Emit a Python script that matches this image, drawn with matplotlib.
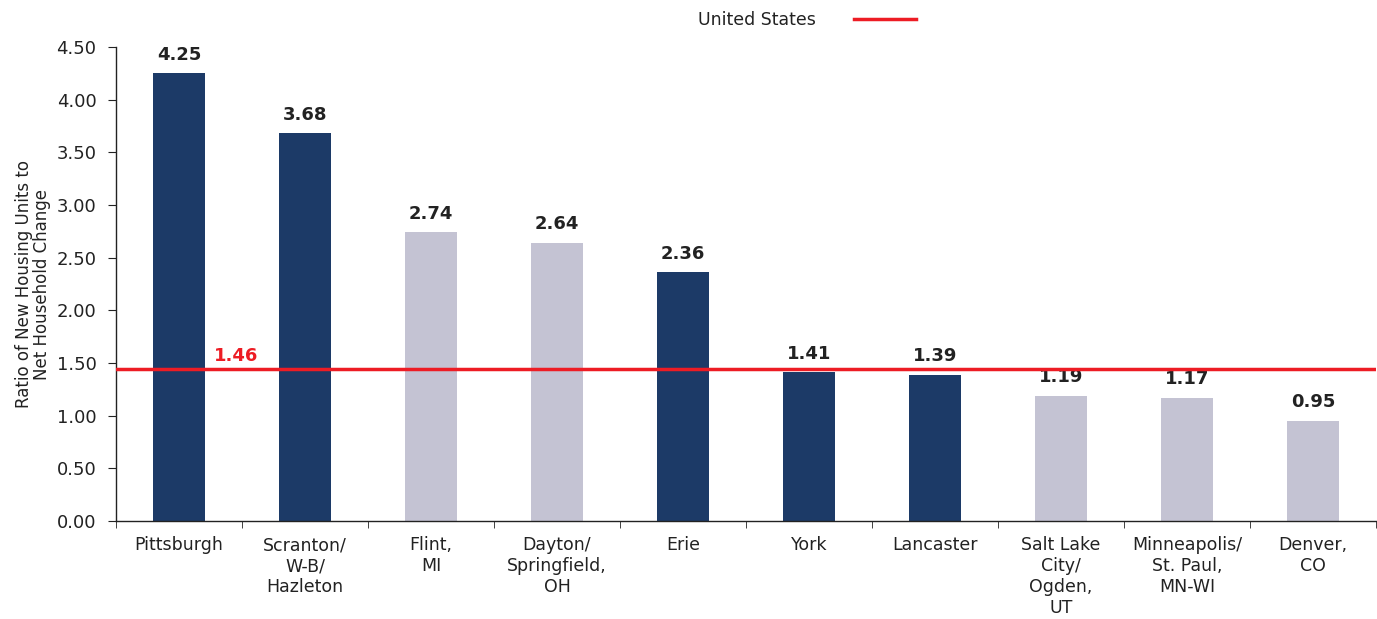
import numpy as np
import matplotlib.pyplot as plt
from matplotlib.lines import Line2D

categories = ["Pittsburgh", "Scranton/\nW-B/\nHazleton", "Flint,\nMI", "Dayton/\nSpringfield,\nOH",
              "Erie", "York", "Lancaster", "Salt Lake\nCity/\nOgden,\nUT", "Minneapolis/\nSt. Paul,\nMN-WI",
              "Denver,\nCO"]
values = [4.25, 3.68, 2.74, 2.64, 2.36, 1.41, 1.39, 1.19, 1.17, 0.95]
highlight = [True, True, False, False, True, True, True, False, False, False]
us_value = 1.46
yticks = [0.0, 0.5, 1.0, 1.5, 2.0, 2.5, 3.0, 3.5, 4.0, 4.5]

navy = "#1c3a67"
lilac = "#c4c3d3"
red = "#ed1c24"
text_col = "#222222"

plt.rcParams['font.family'] = ['DejaVu Sans']

fig = plt.figure(figsize=(13.77, 6.19), dpi=100)
ax = fig.add_axes([116/1377, 1 - 521/619, 1 - 117/1377, (521 - 47)/619])

x = np.arange(len(categories))
colors = [navy if h else lilac for h in highlight]
ax.bar(x, values, width=0.41, color=colors, zorder=2)

# value labels above each bar
for xi, v in zip(x, values):
    ax.text(xi, v + 0.09, "%.2f" % v, ha='center', va='bottom', fontsize=13,
            fontweight='bold', color=text_col)

# US reference line
ax.axhline(us_value - 0.02, color=red, lw=2.5, zorder=3)
ax.text(0.45, us_value + 0.02, "%.2f" % us_value, ha='center', va='bottom', fontsize=13,
        fontweight='bold', color=red, zorder=4)

ax.set_xlim(-0.5, len(categories) - 0.5)
ax.set_ylim(0, 4.5)
ax.set_yticks(yticks)
ax.set_yticklabels(["%.2f" % t for t in yticks], fontsize=13, color=text_col)
ax.set_xticks(x)
ax.set_xticklabels(categories, fontsize=12.5, color=text_col, linespacing=1.2, va='top')
ax.tick_params(axis='x', length=0, pad=11)
ax.set_xticks(np.arange(len(categories) + 1) - 0.5, minor=True)
ax.tick_params(axis='x', which='minor', length=5, color=text_col)
ax.tick_params(axis='y', length=6, pad=8, color=text_col)

for s in ['top', 'right']:
    ax.spines[s].set_visible(False)
for s in ['left', 'bottom']:
    ax.spines[s].set_color(text_col)
    ax.spines[s].set_linewidth(1.0)

ax.set_ylabel("Ratio of New Housing Units to\nNet Household Change", fontsize=12,
              color=text_col, linespacing=1.0, labelpad=4)

handle = Line2D([], [], color=red, lw=2.5)
fig.legend([handle], ["United States"], loc='center', bbox_to_anchor=(807/1377, 1 - 20/619),
           frameon=False, markerfirst=False, handlelength=3.6, handletextpad=2.2,
           fontsize=12.5, labelcolor=text_col)

fig.savefig("out.png", dpi=100)
